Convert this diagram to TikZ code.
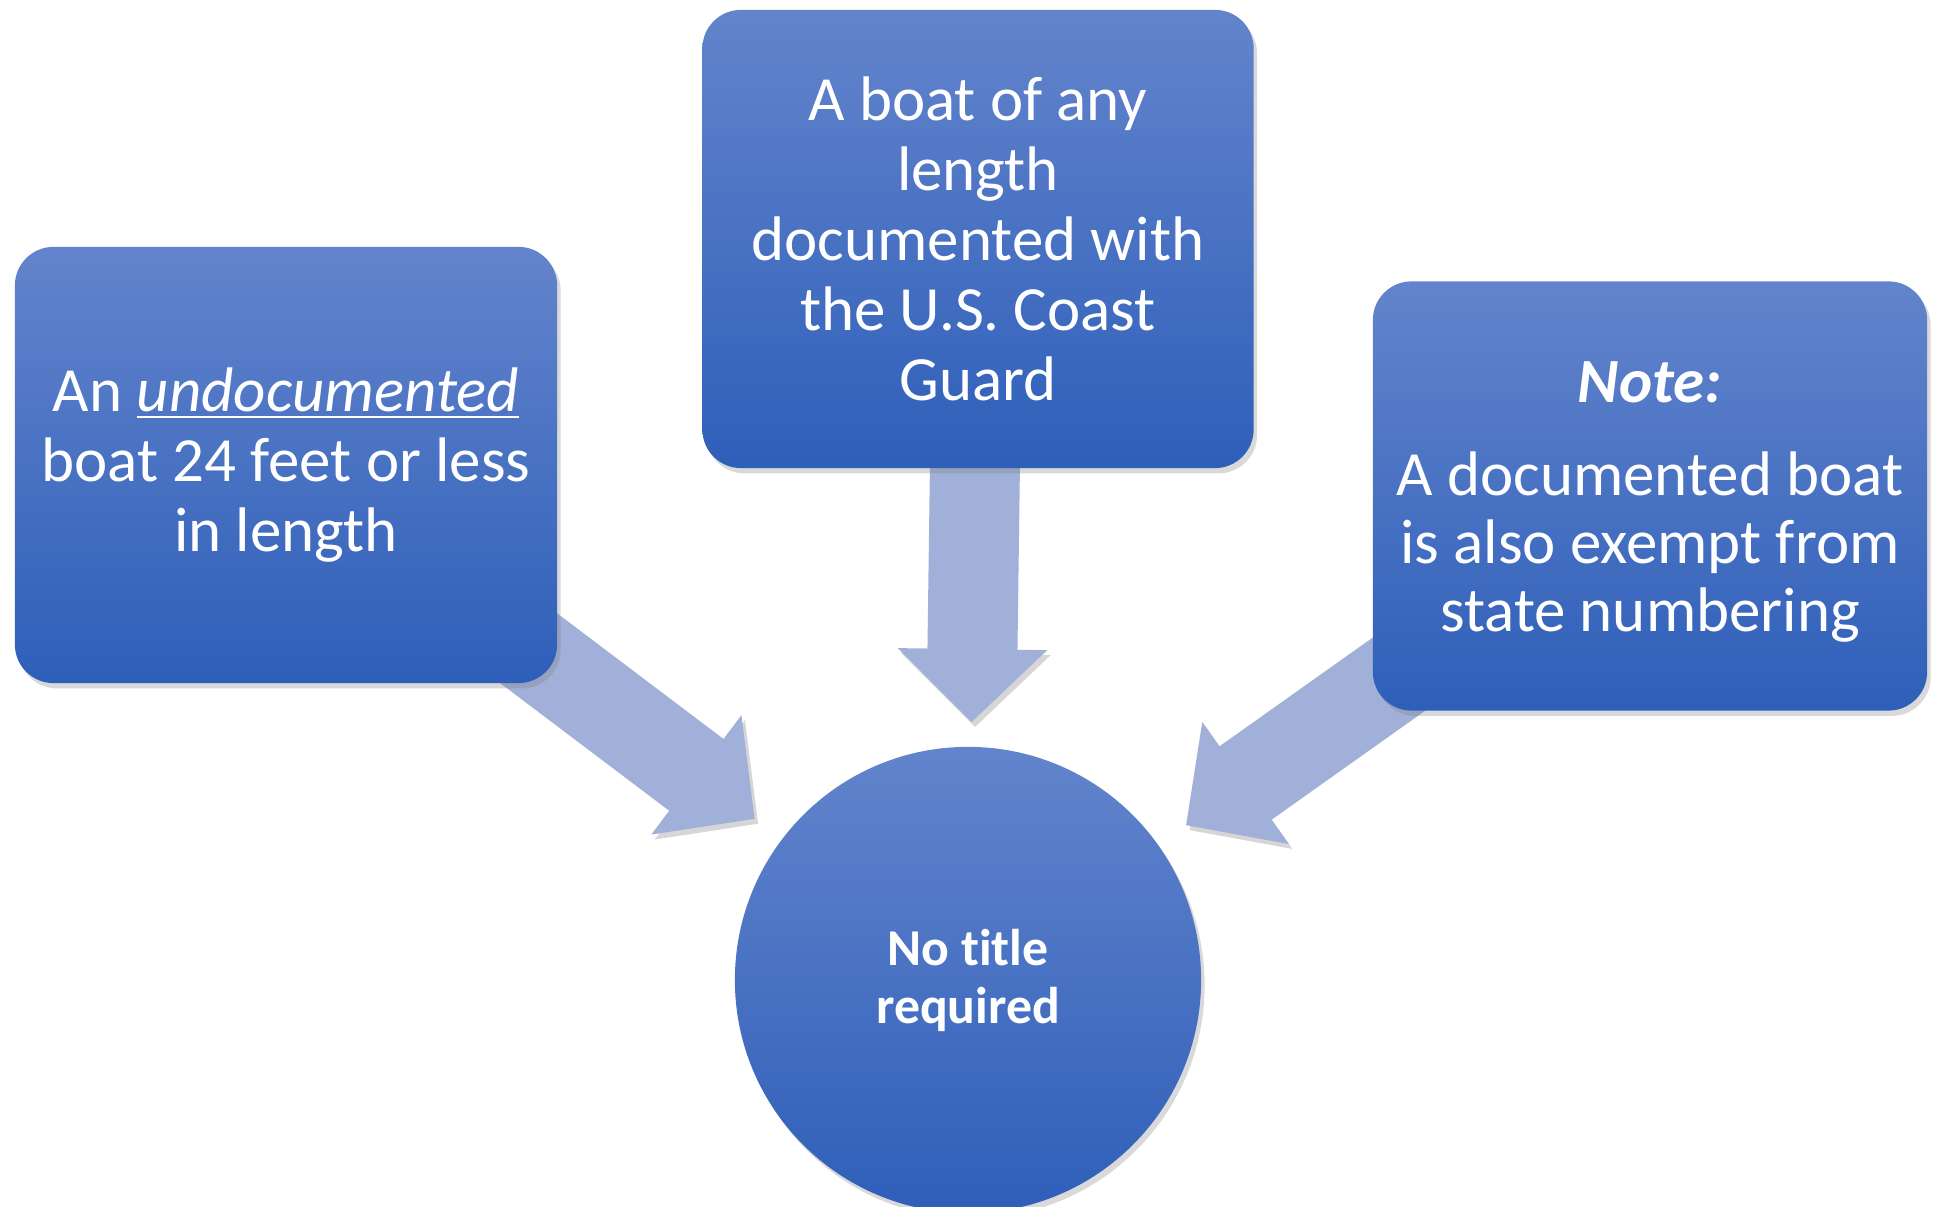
\documentclass[tikz,border=0pt]{standalone}
\usepackage{fontspec}
\setmainfont{Carlito}[Ligatures=NoCommon]
\usetikzlibrary{arrows.meta,shadows,backgrounds}
\definecolor{boxtop}{HTML}{6384CC}
\definecolor{boxbot}{HTML}{2E5FB9}
\definecolor{arrowfill}{HTML}{A0B0D9}

\begin{document}
\begin{tikzpicture}[x=0.01cm,y=-0.01cm,
		box node/.style={rectangle,rounded corners=11pt,top color=boxtop,bottom color=boxbot,text=white,align=center,inner sep=0pt,
			drop shadow={opacity=0.3,shadow xshift=1pt,shadow yshift=-1.5pt},font=\fontsize{17.9}{19.9}\selectfont},
		hub node/.style={circle,top color=boxtop,bottom color=boxbot,text=white,align=center,minimum size=4.66cm,inner sep=0pt,
			drop shadow={opacity=0.3,shadow xshift=1pt,shadow yshift=-1.5pt},font=\bfseries\fontsize{14.7}{16.5}\selectfont},
		big arrow/.style={draw=arrowfill,line width=25.6pt,-{Triangle[width=41.3pt,length=20.8pt]},shorten >=9.5pt,
			preaction={draw=black!16,transform canvas={shift={(1pt,-1.4pt)}}}}]
		\useasboundingbox (0,0) rectangle (1938,1207);
		% boxes
		\node[hub node] (hub) at (968,980) {No title\\required};
		\node[box node, minimum width=5.42cm, minimum height=4.36cm] (left) at (286,465) {An \underline{\textit{undocumented}}\\boat 24 feet or less\\in length};
		\node[box node, minimum width=5.51cm, minimum height=4.58cm] (top) at (978,239) {A boat of any\\length\\documented with\\the U.S. Coast\\Guard};
		\node[box node, minimum width=5.54cm, minimum height=4.29cm, font=\fontsize{17.9}{19.3}\selectfont] (right) at (1650,496)
			{\rule{0pt}{15pt}\textbf{\textit{Note:}}\\[7pt]A documented boat\\is also exempt from\\state numbering};
		\begin{pgfonlayer}{background}
		\path
		(left.center) edge [big arrow] (hub)
		(top.center) edge [big arrow, shorten >=6.8pt] (hub)
		(right.center) edge [big arrow] (hub);
		\end{pgfonlayer}
\end{tikzpicture}
\end{document}
